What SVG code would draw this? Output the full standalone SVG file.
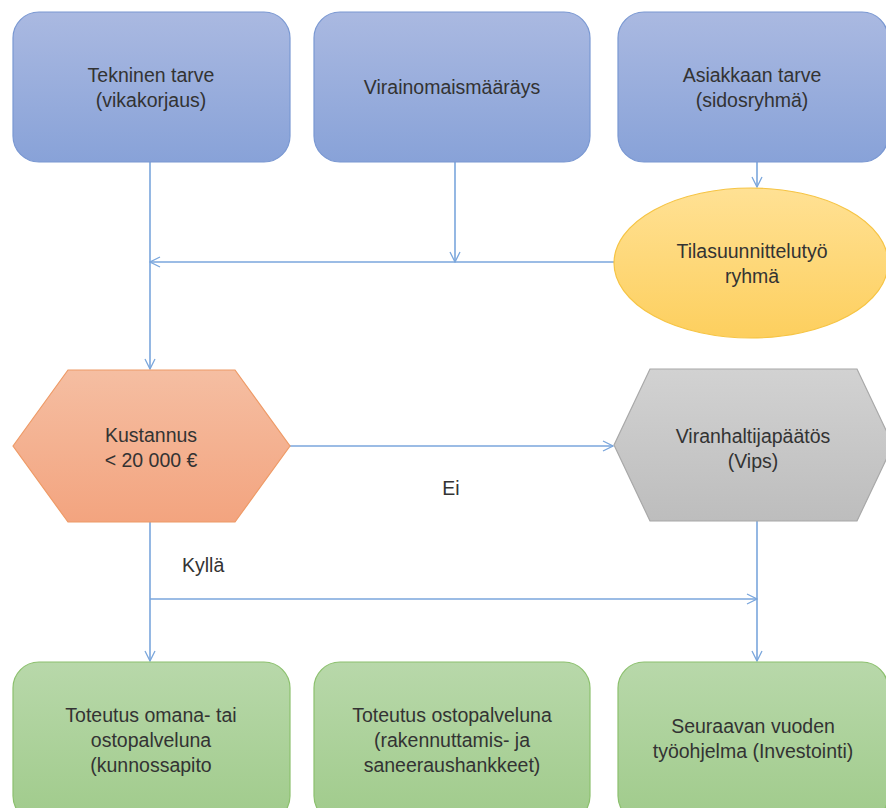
<svg xmlns="http://www.w3.org/2000/svg" width="886" height="808" viewBox="0 0 886 808">
<defs>
<linearGradient id="gBlue" x1="0" y1="0" x2="0" y2="1"><stop offset="0" stop-color="#aab9e1"/><stop offset="1" stop-color="#88a2d8"/></linearGradient>
<linearGradient id="gYellow" x1="0" y1="0" x2="0" y2="1"><stop offset="0" stop-color="#ffe194"/><stop offset="1" stop-color="#fdcf5e"/></linearGradient>
<linearGradient id="gOrange" x1="0" y1="0" x2="0" y2="1"><stop offset="0" stop-color="#f5bea2"/><stop offset="1" stop-color="#f3a47f"/></linearGradient>
<linearGradient id="gGrey" x1="0" y1="0" x2="0" y2="1"><stop offset="0" stop-color="#d2d2d2"/><stop offset="1" stop-color="#bdbdbd"/></linearGradient>
<linearGradient id="gGreen" x1="0" y1="0" x2="0" y2="1"><stop offset="0" stop-color="#b8d8aa"/><stop offset="1" stop-color="#a0cb8b"/></linearGradient>
<marker id="arr" markerWidth="12" markerHeight="12" viewBox="0 0 12 12" refX="11" refY="6" orient="auto" markerUnits="userSpaceOnUse">
<path d="M1,1 L11,6 L1,11" fill="none" stroke="#7aa6dc" stroke-width="1.3"/>
</marker>
<style>
text{font-family:"Liberation Sans",Arial,sans-serif;font-size:19.5px;fill:#333333;text-anchor:middle}
.blue{fill:url(#gBlue);stroke:#7a98d2;stroke-width:1.2}
.yel{fill:url(#gYellow);stroke:#f6c444;stroke-width:1.2}
.org{fill:url(#gOrange);stroke:#ee9a66;stroke-width:1.2}
.gry{fill:url(#gGrey);stroke:#a8a8a8;stroke-width:1.2}
.grn{fill:url(#gGreen);stroke:#8cc06e;stroke-width:1.2}
.c{fill:none;stroke:#7aa6dc;stroke-width:1.6}
.lbl{text-anchor:start}
</style>
</defs>
<g id="connectors">
<path class="c" d="M150,162 V369" marker-end="url(#arr)"/>
<path class="c" d="M455,162 V262" marker-end="url(#arr)"/>
<path class="c" d="M757,162 V187" marker-end="url(#arr)"/>
<path class="c" d="M614,262 H150" marker-end="url(#arr)"/>
<path class="c" d="M290,446 H613" marker-end="url(#arr)"/>
<path class="c" d="M150,522 V661" marker-end="url(#arr)"/>
<path class="c" d="M150,599 H757" marker-end="url(#arr)"/>
<path class="c" d="M757,521 V661" marker-end="url(#arr)"/>
<text x="451" y="495">Ei</text>
<text class="lbl" x="182" y="572">Kyllä</text>
</g>
<g id="n1"><rect class="blue" x="13" y="12" width="277" height="150" rx="26"/><text x="151" y="82">Tekninen tarve</text><text x="151" y="107">(vikakorjaus)</text></g>
<g id="n2"><rect class="blue" x="314" y="12" width="276" height="150" rx="26"/><text x="452" y="94">Virainomaismääräys</text></g>
<g id="n3"><rect class="blue" x="618" y="12" width="270" height="150" rx="26"/><text x="752" y="82">Asiakkaan tarve</text><text x="752" y="107">(sidosryhmä)</text></g>
<g id="n4"><ellipse class="yel" cx="751" cy="263" rx="137" ry="75"/><text x="752" y="258">Tilasuunnittelutyö</text><text x="752" y="283">ryhmä</text></g>
<g id="n5"><polygon class="org" points="13,446 68,370 235,370 290,446 235,522 68,522"/><text x="151" y="442">Kustannus</text><text x="151" y="467">&lt; 20 000 €</text></g>
<g id="n6"><polygon class="gry" points="614,445 650,369 857,369 893,445 857,521 650,521"/><text x="753" y="443">Viranhaltijapäätös</text><text x="753" y="468">(Vips)</text></g>
<g id="n7"><rect class="grn" x="13" y="662" width="277" height="160" rx="26"/><text x="151" y="722">Toteutus omana- tai</text><text x="151" y="747">ostopalveluna</text><text x="151" y="772">(kunnossapito</text></g>
<g id="n8"><rect class="grn" x="314" y="662" width="276" height="160" rx="26"/><text x="452" y="722">Toteutus ostopalveluna</text><text x="452" y="747">(rakennuttamis- ja</text><text x="452" y="772">saneeraushankkeet)</text></g>
<g id="n9"><rect class="grn" x="618" y="662" width="270" height="160" rx="26"/><text x="753" y="733">Seuraavan vuoden</text><text x="753" y="758">työohjelma (Investointi)</text></g>
</svg>
